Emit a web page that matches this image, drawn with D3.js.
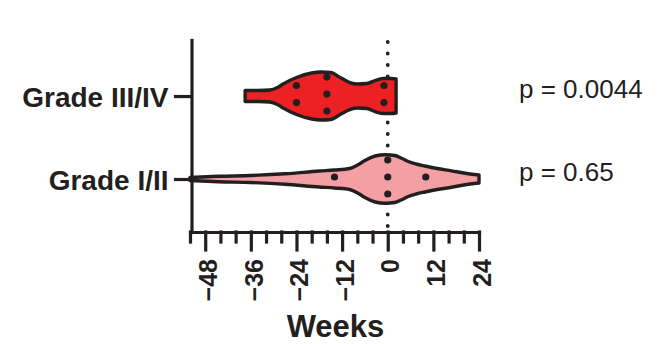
<!DOCTYPE html>
<html>
<head>
<meta charset="utf-8">
<script src="https://cdn.jsdelivr.net/npm/d3@7"></script>
<style>
body { margin: 0; background: #fff; }
svg text { font-family: "Liberation Sans", Arial, sans-serif; fill: #231f20; }
</style>
</head>
<body>
<script>
var categories = ["Grade III/IV", "Grade I/II"];
var pLabels = ["p = 0.0044", "p = 0.65"];
var fills = ["#ed2024", "#f49fa3"];
var xTicks = [-48, -36, -24, -12, 0, 12, 24];
var minorTicks = [-52, -44, -40, -32, -28, -20, -16, -8, -4, 4, 8, 16, 20];

// violin outlines: [week, density]
var violinHigh = [[-37.5, 5.5], [-34, 5.5], [-31, 6], [-29, 8.5], [-27.5, 12], [-24, 18.5],
                  [-20, 23], [-17.5, 24], [-15, 23.5], [-12.5, 18.5], [-10, 13.5], [-8, 12],
                  [-5.5, 12.5], [-3, 16], [-1, 17.5], [1, 17.5], [2.2, 17]];
var violinLow = [[-52, 1.5], [-44.5, 2.7], [-36, 3.5], [-27, 5.2], [-18, 8], [-14, 9],
                 [-10, 10.5], [-7.7, 14.5], [-6, 18.5], [-3.3, 23], [-0.7, 24.3], [1.9, 23.5],
                 [3.5, 21], [5.4, 17.5], [7.5, 15], [9.8, 13], [13, 10.5], [16.8, 8.2],
                 [20, 6], [24, 4]];
// individual patients (weeks)
var pointsHigh = [-24, -24, -16, -16, -16, -1, -1];
var pointsLow = [-14, 0, 0, 0, 10];

var violins = [violinHigh, violinLow];
var points = [pointsHigh, pointsLow];

var width = 669, height = 344;
var ink = "#231f20";

var svg = d3.select("body").append("svg")
            .attr("width", width)
            .attr("height", height);

var x = d3.scaleLinear().domain([-52, 24]).range([190, 479]);
var y = d3.scalePoint().domain(categories).range([40, 232]).padding(0.657).align(0.514);
var w = d3.scaleLinear().domain([0, 25]).range([0, 25]);

// dotted reference line at 0
svg.append("line")
   .attr("x1", x(0)).attr("x2", x(0))
   .attr("y1", 42).attr("y2", 232)
   .attr("stroke", ink)
   .attr("stroke-width", 3.8)
   .attr("stroke-linecap", "round")
   .attr("stroke-dasharray", "0 11.5");

// violins
categories.forEach(function(c, i) {
    var yc = y(c);
    var area = d3.area()
                 .x(function(d) { return x(d[0]); })
                 .y0(function(d) { return yc - w(d[1]); })
                 .y1(function(d) { return yc + w(d[1]); })
                 .curve(d3.curveMonotoneX);
    svg.append("path")
       .datum(violins[i])
       .attr("d", area)
       .attr("fill", fills[i])
       .attr("stroke", ink)
       .attr("stroke-width", 3.4)
       .attr("stroke-linejoin", "round");

    // stack equal values vertically
    var groups = d3.groups(points[i], function(d) { return d; });
    groups.forEach(function(g) {
        var n = g[1].length;
        g[1].forEach(function(v, j) {
            svg.append("circle")
               .attr("cx", x(v))
               .attr("cy", yc - 2 + (j - (n - 1) / 2) * 17)
               .attr("r", 3.6)
               .attr("fill", ink);
        });
    });

    svg.append("text")
       .attr("x", 519)
       .attr("y", yc + 2)
       .style("font-size", "26px")
       .text(pLabels[i]);
});

// x axis
var xAxis = svg.append("g")
   .attr("transform", "translate(0,232)")
   .call(d3.axisBottom(x).tickValues(xTicks).tickSize(18).tickSizeOuter(0));
svg.append("g")
   .attr("transform", "translate(0,232)")
   .call(d3.axisBottom(x).tickValues(minorTicks).tickSize(10).tickSizeOuter(0).tickFormat(""))
   .call(function(g) { g.select(".domain").remove(); });
xAxis.selectAll("text")
     .attr("transform", "rotate(-90)")
     .attr("x", -27)
     .attr("y", 0)
     .attr("dy", "0.45em")
     .style("text-anchor", "end")
     .style("font-size", "25px")
     .style("font-weight", "bold");

// y axis
var yAxis = svg.append("g")
   .attr("transform", "translate(191.5,0)")
   .call(d3.axisLeft(y).tickSize(16).tickSizeOuter(0).tickPadding(7));
yAxis.selectAll("text")
     .attr("dy", "0.36em")
     .style("font-size", "28px")
     .style("font-weight", "bold");

svg.selectAll(".tick line, .domain")
   .attr("stroke", ink)
   .attr("stroke-width", 3.2)
   .attr("stroke-linecap", "square");
svg.selectAll("g").attr("font-family", null).attr("font-size", null);

// axis title
svg.append("text")
   .attr("x", (x.range()[0] + x.range()[1]) / 2 + 1)
   .attr("y", 337)
   .style("text-anchor", "middle")
   .style("font-size", "31px")
   .style("font-weight", "bold")
   .text("Weeks");
</script>
</body>
</html>
